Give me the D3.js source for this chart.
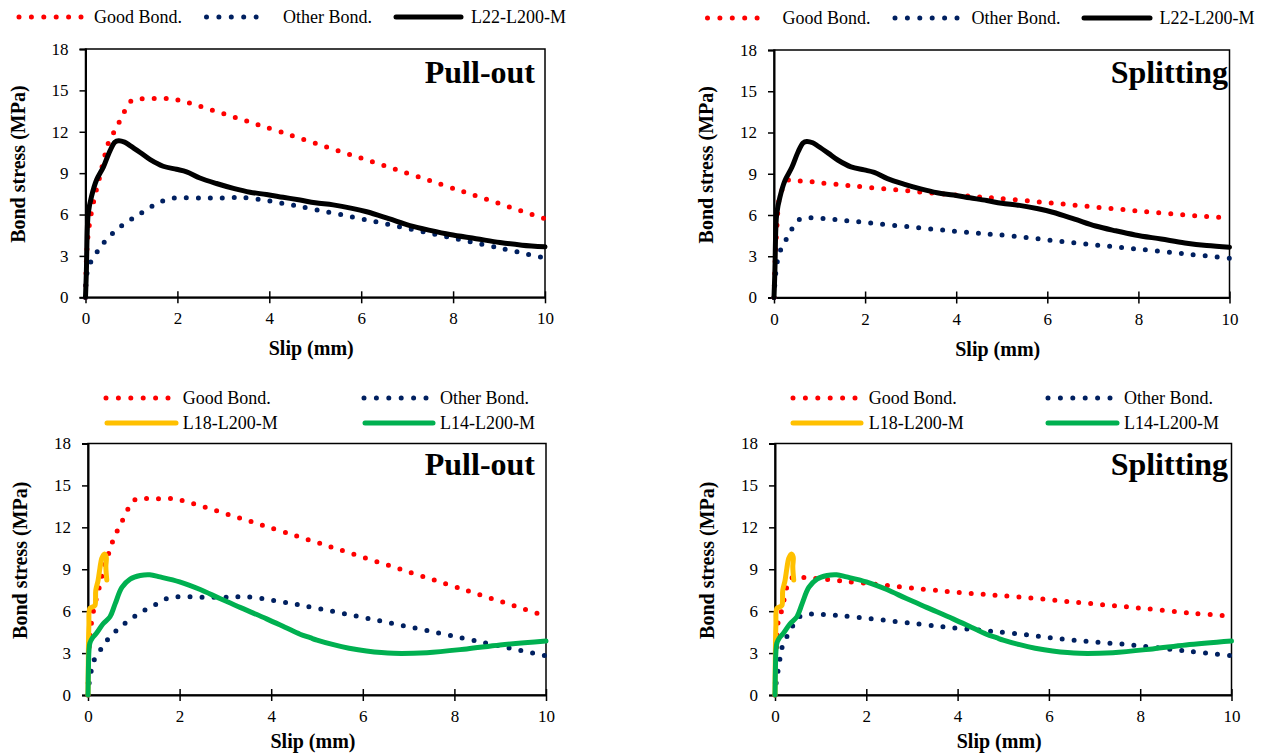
<!DOCTYPE html>
<html>
<head>
<meta charset="utf-8">
<script src="https://cdn.jsdelivr.net/npm/d3@7"></script>
<style>
  html, body { margin: 0; padding: 0; background: #fff; }
  svg { display: block; }
  text { font-family: "Liberation Serif", "Times New Roman", serif; fill: #000; }
</style>
</head>
<body>
<svg id="chart" width="1263" height="756"></svg>
<script>
// ---------------- DATA ----------------
const xTicks = [0, 2, 4, 6, 8, 10];
const yTicks = [0, 3, 6, 9, 12, 15, 18];
const xLabel = "Slip (mm)";
const yLabel = "Bond stress (MPa)";
const panelTitles = ["Pull-out", "Splitting", "Pull-out", "Splitting"];
const seriesNamesTop = ["Good Bond.", "Other Bond.", "L22-L200-M"];
const seriesNamesBottom = ["Good Bond.", "Other Bond.", "L18-L200-M", "L14-L200-M"];

// Pull-out (top-left)
const goodBondPullTop = [[0,0],[0.02,2.7],[0.05,4.3],[0.1,5.6],[0.2,7.3],[0.3,8.6],[0.4,10.0],[0.5,11.2],[0.64,12.1],[0.75,12.8],[0.87,13.6],[1.02,14.3],[1.3,14.4],[1.6,14.4],[1.85,14.4],[2.08,14.25],[10,5.7]];
const otherBondPullTop = [[0,0],[0.03,1.7],[0.12,2.6],[0.27,3.37],[0.42,4.05],[0.6,4.67],[0.8,5.22],[1.02,5.7],[1.24,6.17],[1.46,6.62],[1.69,7.0],[1.93,7.2],[2.5,7.2],[3.0,7.2],[3.55,7.2],[10,2.85]];
// Splitting (top-right)
const goodBondSplitTop = [[0,0],[0.03,3.0],[0.07,5.5],[0.11,7.1],[0.2,8.0],[0.33,8.56],[0.61,8.46],[0.88,8.4],[1.14,8.3],[4.0,7.45],[5.33,7.1],[6.65,6.7],[7.97,6.3],[9.25,5.95],[10,5.78]];
const otherBondSplitTop = [[0,0],[0.03,1.5],[0.07,2.58],[0.15,3.49],[0.27,4.24],[0.4,5.02],[0.57,5.7],[0.81,5.8],[1.07,5.75],[1.34,5.67],[3.94,4.83],[5.26,4.46],[6.58,3.98],[7.87,3.56],[9.18,3.12],[10,2.86]];
// Test curve L22-L200-M
const l22 = [[0,0],[0.02,2.0],[0.04,5.0],[0.06,6.1],[0.13,7.3],[0.24,8.5],[0.39,9.45],[0.53,10.6],[0.64,11.25],[0.72,11.35],[0.85,11.25],[0.97,11.0],[1.19,10.5],[1.4,10.0],[1.69,9.5],[1.98,9.28],[2.2,9.1],[2.49,8.65],[2.85,8.25],[3.22,7.9],[3.58,7.62],[3.94,7.45],[4.3,7.25],[4.67,7.05],[5.0,6.85],[5.39,6.7],[5.8,6.45],[6.12,6.2],[6.6,5.7],[7.06,5.2],[7.5,4.85],[7.93,4.55],[8.5,4.25],[9.02,3.97],[9.5,3.78],[10,3.66]];

// Pull-out (bottom-left)
const goodBondPullBottom = [[0,0],[0.02,3.0],[0.04,4.4],[0.08,5.25],[0.13,6.2],[0.19,7.0],[0.25,7.75],[0.33,8.9],[0.4,9.7],[0.47,10.3],[0.55,11.1],[0.66,11.9],[0.77,12.6],[0.9,13.45],[1.06,14.05],[1.33,14.05],[1.6,14.05],[1.86,14.05],[2.13,13.85],[10,5.65]];
const otherBondPullBottom = [[0,0],[0.03,1.0],[0.07,1.72],[0.14,2.55],[0.28,3.27],[0.43,3.98],[0.61,4.58],[0.81,5.13],[1.03,5.65],[1.24,6.08],[1.48,6.48],[1.7,6.87],[1.95,7.03],[2.5,7.0],[3.0,7.0],[3.57,7.0],[10,2.8]];
// Splitting (bottom-right)
const goodBondSplitBottom = [[0,0],[0.03,3.0],[0.07,5.24],[0.15,6.08],[0.29,8.0],[0.4,8.45],[0.61,8.42],[0.88,8.35],[3.99,7.35],[5.3,7.03],[6.62,6.63],[7.89,6.25],[9.2,5.84],[10,5.65]];
const otherBondSplitBottom = [[0,0],[0.03,1.0],[0.07,1.8],[0.11,2.62],[0.16,3.46],[0.27,4.24],[0.4,5.0],[0.56,5.65],[0.8,5.79],[3.91,4.81],[5.22,4.41],[6.5,3.93],[7.81,3.58],[9.13,3.1],[10,2.82]];
// Test curves
const l18 = [[0,0],[0.005,2.0],[0.01,3.6],[0.02,5.0],[0.04,6.2],[0.1,6.3],[0.15,6.4],[0.17,7.5],[0.22,8.2],[0.26,9.06],[0.3,9.78],[0.36,10.1],[0.4,9.85],[0.39,9.2],[0.41,8.23]];
const l14 = [[0,0],[0.01,2.0],[0.02,3.1],[0.04,3.7],[0.1,4.1],[0.18,4.4],[0.33,5.1],[0.48,5.6],[0.59,6.5],[0.74,7.7],[0.92,8.3],[1.14,8.55],[1.35,8.6],[1.57,8.45],[2.0,8.1],[2.45,7.55],[2.88,6.9],[3.32,6.27],[3.9,5.45],[4.3,4.85],[4.63,4.35],[4.85,4.1],[5.0,3.93],[5.36,3.6],[5.7,3.35],[6.08,3.15],[6.67,2.98],[7.4,3.03],[8.27,3.3],[9.0,3.58],[10,3.86]];

// ---------------- STYLES ----------------
const RED = "#FF0000", NAVY = "#002060", BLACK = "#000000", YELLOW = "#FFC000", GREEN = "#00B050";

const svg = d3.select("#chart");

const panels = [
  { x0: 85.5, x1: 545, y0: 49, y1: 297.3, title: panelTitles[0], titleX: 535, titleY: 83, xTitleOff: 58,
    series: [ {d: goodBondPullTop, c: RED, dot: true}, {d: otherBondPullTop, c: NAVY, dot: true}, {d: l22, c: BLACK} ],
    legend: { fs: 18, gap: 12.4, rows: [17],
      items: [ {row: 0, a: 19, b: 81, c: RED, dot: true, tx: 94, t: seriesNamesTop[0]},
               {row: 0, a: 206.5, b: 268.5, c: NAVY, dot: true, tx: 283, t: seriesNamesTop[1]},
               {row: 0, a: 396, b: 461, c: BLACK, tx: 471, t: seriesNamesTop[2]} ] } },
  { x0: 774, x1: 1229.5, y0: 50, y1: 297.5, title: panelTitles[1], titleX: 1228, titleY: 83, xTitleOff: 58,
    series: [ {d: goodBondSplitTop, c: RED, dot: true}, {d: otherBondSplitTop, c: NAVY, dot: true}, {d: l22, c: BLACK} ],
    legend: { fs: 18, gap: 12.4, rows: [18],
      items: [ {row: 0, a: 707.5, b: 769.5, c: RED, dot: true, tx: 782.5, t: seriesNamesTop[0]},
               {row: 0, a: 895, b: 957, c: NAVY, dot: true, tx: 971.5, t: seriesNamesTop[1]},
               {row: 0, a: 1084, b: 1150, c: BLACK, tx: 1159.5, t: seriesNamesTop[2]} ] } },
  { x0: 88, x1: 546, y0: 443.5, y1: 695, title: panelTitles[2], titleX: 535, titleY: 475, xTitleOff: 53,
    series: [ {d: goodBondPullBottom, c: RED, dot: true}, {d: otherBondPullBottom, c: NAVY, dot: true}, {d: l18, c: YELLOW}, {d: l14, c: GREEN} ],
    legend: { fs: 18, gap: 12.4, rows: [398, 423],
      items: [ {row: 0, a: 106, b: 168, c: RED, dot: true, tx: 182.7, t: seriesNamesBottom[0]},
               {row: 0, a: 364, b: 426, c: NAVY, dot: true, tx: 440, t: seriesNamesBottom[1]},
               {row: 1, a: 107, b: 176, c: YELLOW, tx: 182.7, t: seriesNamesBottom[2]},
               {row: 1, a: 365, b: 433, c: GREEN, tx: 440, t: seriesNamesBottom[3]} ] } },
  { x0: 775, x1: 1231.5, y0: 443.5, y1: 695, title: panelTitles[3], titleX: 1228, titleY: 475, xTitleOff: 53,
    series: [ {d: goodBondSplitBottom, c: RED, dot: true}, {d: otherBondSplitBottom, c: NAVY, dot: true}, {d: l18, c: YELLOW}, {d: l14, c: GREEN} ],
    legend: { fs: 18, gap: 12.4, rows: [398, 423],
      items: [ {row: 0, a: 793, b: 855, c: RED, dot: true, tx: 868.8, t: seriesNamesBottom[0]},
               {row: 0, a: 1048, b: 1110, c: NAVY, dot: true, tx: 1124, t: seriesNamesBottom[1]},
               {row: 1, a: 793, b: 861, c: YELLOW, tx: 868.8, t: seriesNamesBottom[2]},
               {row: 1, a: 1048, b: 1117, c: GREEN, tx: 1124, t: seriesNamesBottom[3]} ] } }
];

panels.forEach((p) => {
  const x = d3.scaleLinear().domain([0, 10]).range([p.x0, p.x1]);
  const y = d3.scaleLinear().domain([0, 18]).range([p.y1, p.y0]);
  const g = svg.append("g");

  // plot area border
  g.append("rect").attr("x", p.x0).attr("y", p.y0).attr("width", p.x1 - p.x0).attr("height", p.y1 - p.y0)
    .attr("fill", "none").attr("stroke", "#000").attr("stroke-width", 1.5);

  // Y axis
  const ya = g.append("g").attr("transform", `translate(${p.x0},0)`)
    .call(d3.axisLeft(y).tickValues(yTicks).tickSize(6).tickPadding(11).tickFormat(d3.format("d")));
  ya.select(".domain").attr("stroke-width", 2);
  ya.selectAll(".tick line").attr("stroke-width", 1.5);
  ya.selectAll("text").attr("font-size", 17);

  // X axis (crossing ticks)
  const xa = g.append("g").attr("transform", `translate(0,${p.y1})`)
    .call(d3.axisBottom(x).tickValues(xTicks).tickSizeInner(6).tickSizeOuter(0).tickPadding(9).tickFormat(d3.format("d")));
  xa.select(".domain").attr("stroke-width", 2);
  xa.selectAll(".tick line").attr("y1", -6).attr("y2", 6).attr("stroke-width", 1.5);
  xa.selectAll("text").attr("font-size", 17);

  // axis titles
  g.append("text").attr("x", (p.x0 + p.x1) / 2 - 4).attr("y", p.y1 + p.xTitleOff)
    .attr("text-anchor", "middle").attr("font-size", 20).attr("font-weight", "bold").text(xLabel);
  const ylx = p.x0 - 68, yly = p.y0 + (p.y1 - p.y0) / 2 - 9;
  g.append("text").attr("transform", `translate(${ylx},${yly}) rotate(-90)`)
    .attr("text-anchor", "middle").attr("dominant-baseline", "central")
    .attr("font-size", 20).attr("font-weight", "bold").text(yLabel);

  // panel title
  g.append("text").attr("x", p.titleX).attr("y", p.titleY).attr("text-anchor", "end")
    .attr("font-size", 32).attr("font-weight", "bold").text(p.title);

  // series
  const line = d3.line().x(d => x(d[0])).y(d => y(d[1])).curve(d3.curveCatmullRom.alpha(0.5));
  p.series.forEach(s => {
    const path = g.append("path").attr("d", line(s.d)).attr("fill", "none").attr("stroke", s.c)
      .attr("stroke-width", 5).attr("stroke-linecap", "round").attr("stroke-linejoin", "round");
    if (s.dot) path.attr("stroke-dasharray", "0 12");
  });

  // legend
  const L = p.legend;
  const lg = svg.append("g");
  L.items.forEach(it => {
    const ly = L.rows[it.row];
    const s = lg.append("line").attr("x1", it.a).attr("x2", it.b).attr("y1", ly).attr("y2", ly)
      .attr("stroke", it.c).attr("stroke-width", 5).attr("stroke-linecap", "round");
    if (it.dot) s.attr("stroke-dasharray", `0 ${L.gap}`);
    lg.append("text").attr("x", it.tx).attr("y", ly).attr("dominant-baseline", "central")
      .attr("font-size", L.fs).text(it.t);
  });
});
</script>
</body>
</html>
